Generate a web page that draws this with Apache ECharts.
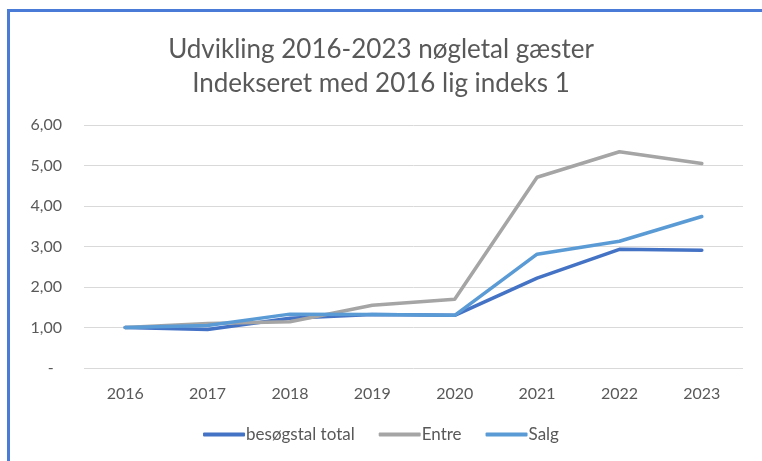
<!DOCTYPE html>
<html>
<head>
<meta charset="utf-8">
<script src="https://cdn.jsdelivr.net/npm/echarts@6/dist/echarts.min.js"></script>
<style>
  html, body { margin: 0; padding: 0; background: #fff; overflow: hidden; }
  #frame { position: absolute; left: 7px; top: 9px; width: 800px; height: 500px;
    border-left: 3px solid #4a7bd6; border-top: 3px solid #4a7bd6; }
  #chart { position: absolute; left: 0; top: 0; width: 762px; height: 461px; }
</style>
</head>
<body>
<div id="frame"></div>
<div id="chart"></div>
<script>
const years = ['2016', '2017', '2018', '2019', '2020', '2021', '2022', '2023']
const besogstal = [1.00, 0.95, 1.23, 1.32, 1.30, 2.22, 2.93, 2.91]
const entre = [1.00, 1.10, 1.14, 1.55, 1.70, 4.71, 5.34, 5.05]
const salg = [1.00, 1.05, 1.33, 1.32, 1.30, 2.81, 3.13, 3.74]

const textColor = '#595959'
const font = 'Lato, "Open Sans", sans-serif'

const chart = echarts.init(document.getElementById('chart'))

function line(name, data, color) {
  return {
    name,
    type: 'line',
    data,
    symbol: 'none',
    lineStyle: { width: 3.5, color, cap: 'round', join: 'round' },
    itemStyle: { color },
    animation: false,
  }
}

chart.setOption({
  title: {
    text: 'Udvikling 2016-2023 nøgletal gæster\nIndekseret med 2016 lig indeks 1',
    left: 'center',
    top: 28,
    textStyle: { color: textColor, fontFamily: font, fontWeight: 'normal', fontSize: 26, lineHeight: 34 },
  },
  grid: { left: 84, right: 19, top: 125, bottom: 93 },
  legend: {
    bottom: 13,
    left: 'center',
    itemWidth: 42,
    itemHeight: 4,
    itemGap: 24,
    icon: 'roundRect',
    textStyle: { color: textColor, fontFamily: font, fontSize: 17, padding: [0, 0, 0, -4] },
    data: ['besøgstal total', 'Entre', 'Salg'],
  },
  xAxis: {
    type: 'category',
    data: years,
    boundaryGap: true,
    axisLine: { show: false },
    axisTick: { show: false },
    axisLabel: { color: textColor, fontFamily: font, fontSize: 16, margin: 18 },
  },
  yAxis: {
    type: 'value',
    min: 0,
    max: 6,
    interval: 1,
    axisLine: { show: false },
    axisTick: { show: false },
    splitLine: { lineStyle: { color: '#d9d9d9', width: 1 } },
    axisLabel: {
      color: textColor, fontFamily: font, fontSize: 16, margin: 22,
      formatter: v => v === 0 ? '-  ' : v.toFixed(2).replace('.', ','),
    },
  },
  series: [
    line('besøgstal total', besogstal, '#4472c4'),
    line('Entre', entre, '#a5a5a5'),
    line('Salg', salg, '#5b9bd5'),
  ],
})
</script>
</body>
</html>
